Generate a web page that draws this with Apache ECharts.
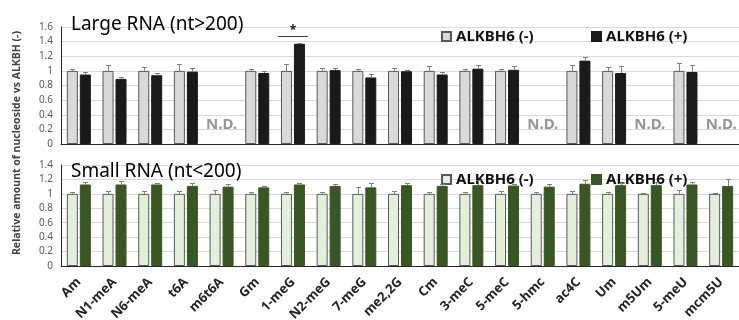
<!DOCTYPE html>
<html><head><meta charset="utf-8">
<script src="https://cdn.jsdelivr.net/npm/echarts@6/dist/echarts.min.js"></script>
<style>html,body{margin:0;padding:0;background:#fff}#c{width:739px;height:320px}</style>
</head><body><div id="c"></div>
<script>
const categories = ['Am','N1-meA','N6-meA','t6A','m6t6A','Gm','1-meG','N2-meG','7-meG','me2,2G','Cm','3-meC','5-meC','5-hmc','ac4C','Um','m5Um','5-meU','mcm5U'];
const largeMinus    = [1,1,1,1,null,1,1,1,1,1,1,1,1,null,1,1,null,1,null];
const largeMinusErr = [0.02,0.08,0.05,0.10,null,0.03,0.10,0.04,0.03,0.035,0.06,0.03,0.03,null,0.08,0.05,null,0.11,null];
const largePlus     = [0.95,0.89,0.94,0.99,null,0.97,1.37,1.01,0.91,0.995,0.95,1.03,1.015,null,1.14,0.97,null,0.985,null];
const largePlusErr  = [0.04,0.03,0.03,0.05,null,0.03,0.015,0.03,0.045,0.02,0.035,0.05,0.055,null,0.05,0.09,null,0.10,null];
const smallMinus    = [1,1,1,1,1,1,1,1,1,1,1,1,1,1,1,1,1,1,1];
const smallMinusErr = [0.03,0.035,0.035,0.035,0.05,0.03,0.02,0.03,0.09,0.04,0.02,0.02,0.04,0.02,0.045,0.02,0.01,0.055,0.01];
const smallPlus     = [1.13,1.13,1.13,1.11,1.10,1.09,1.13,1.11,1.09,1.12,1.11,1.12,1.115,1.10,1.14,1.12,1.12,1.13,1.11];
const smallPlusErr  = [0.03,0.05,0.02,0.035,0.03,0.02,0.02,0.03,0.06,0.03,0.03,0.07,0.015,0.04,0.055,0.03,0.04,0.03,0.10];
const largeND = ['m6t6A','5-hmc','m5Um','mcm5U'];
const sigCategories = ['1-meG'];
const sigLevels = [1.48];
const legendNames = {minus:'ALKBH6 (-)', plus:'ALKBH6 (+)'};
const titles = ['Large RNA (nt>200)','Small RNA (nt<200)'];
const yName = 'Relative amount of nucleoside vs ALKBH (-)';

const FONT = '"Noto Sans", sans-serif';
const BW = 11, OFF = 6.5;
const chart = echarts.init(document.getElementById('c'), null, {renderer:'canvas'});

function errSeries(ax, vals, errs, sign){
  const data = [];
  vals.forEach((v,i)=>{ if(v!=null) data.push([i, v, errs[i]]); });
  return {type:'custom', xAxisIndex:ax, yAxisIndex:ax, silent:true, z:5,
    encode:{x:0,y:1}, data,
    renderItem(params, api){
      const i=api.value(0), v=api.value(1), e=api.value(2);
      const p0=api.coord([i,v]), p1=api.coord([i,v+e]);
      const x=Math.round(p0[0]+sign*OFF)+0.5, yt=Math.round(p1[1])+0.5;
      const st={stroke:'#7f7f7f', lineWidth:1};
      return {type:'group', children:[
        {type:'line', shape:{x1:x,y1:p0[1],x2:x,y2:yt}, style:st},
        {type:'line', shape:{x1:x-2.5,y1:yt,x2:x+2.5,y2:yt}, style:st}
      ]};
    }};
}
function yAxis(ax, max){
  return {type:'value', gridIndex:ax, min:0, max, interval:0.2,
    axisLine:{show:true, lineStyle:{color:'#262626', width:1}},
    axisTick:{show:false},
    splitLine:{lineStyle:{color:'#d9d9d9', width:1}},
    axisLabel:{fontSize:10, color:'#595959', margin:8, fontFamily:FONT}};
}
function xAxis(ax, showLabels){
  return {type:'category', gridIndex:ax, data:categories,
    axisLine:{lineStyle:{color:'#262626', width:1}},
    axisTick:{show:false},
    axisLabel:{show:showLabels, interval:0, rotate:45, fontSize:13, fontWeight:'bold', color:'#222', margin:14, fontFamily:FONT}};
}
function legendItem(name, left, top){
  return {data:[name], left, top, icon:'rect', itemWidth:9, itemHeight:9, itemGap:0,
    selectedMode:false,
    formatter:n=> n.endsWith('-') ? legendNames.minus : legendNames.plus,
    textStyle:{fontSize:15, fontWeight:'bold', color:'#111', fontFamily:FONT}};
}
const option = {
  animation:false,
  title:[
    {text:titles[0], left:66, top:10, textStyle:{fontSize:19, fontWeight:'normal', color:'#000', fontFamily:FONT}},
    {text:titles[1], left:66, top:157, textStyle:{fontSize:19, fontWeight:'normal', color:'#000', fontFamily:FONT}}
  ],
  legend:[
    legendItem('L-', 436, 24), legendItem('L+', 586, 24),
    legendItem('S-', 436, 167), legendItem('S+', 586, 167)
  ],
  graphic:[{type:'text', x:17, y:143, rotation:Math.PI/2,
    style:{text:yName, textAlign:'center', textVerticalAlign:'middle', align:'center', verticalAlign:'middle',
      font:'bold 10.5px "Noto Sans", sans-serif', fill:'#404040'}}],
  grid:[
    {left:61, right:0, top:27, height:117, outerBoundsMode:'none', containLabel:false},
    {left:61, right:0, top:165, height:101, outerBoundsMode:'none', containLabel:false}
  ],
  xAxis:[xAxis(0,false), xAxis(1,true)],
  yAxis:[yAxis(0,1.6), yAxis(1,1.4)],
  series:[
    {name:'L-', type:'bar', xAxisIndex:0, yAxisIndex:0, data:largeMinus, barWidth:BW, barGap:'18%',
      itemStyle:{color:'#d9d9d9', borderColor:'#595959', borderWidth:1}},
    {name:'L+', type:'bar', xAxisIndex:0, yAxisIndex:0, data:largePlus, barWidth:BW,
      itemStyle:{color:'#1a1a1a', borderColor:'#1a1a1a', borderWidth:1}},
    {name:'S-', type:'bar', xAxisIndex:1, yAxisIndex:1, data:smallMinus, barWidth:BW, barGap:'18%',
      itemStyle:{color:'#e2efda', borderColor:'#595959', borderWidth:1}},
    {name:'S+', type:'bar', xAxisIndex:1, yAxisIndex:1, data:smallPlus, barWidth:BW,
      itemStyle:{color:'#385723', borderColor:'#385723', borderWidth:1}},
    errSeries(0, largeMinus, largeMinusErr, -1),
    errSeries(0, largePlus, largePlusErr, 1),
    errSeries(1, smallMinus, smallMinusErr, -1),
    errSeries(1, smallPlus, smallPlusErr, 1),
    {type:'scatter', xAxisIndex:0, yAxisIndex:0, silent:true, symbolSize:1,
      itemStyle:{color:'rgba(0,0,0,0)'},
      data:largeND.map(c=>[c, 0.27]),
      label:{show:true, position:'inside', formatter:'N.D.', fontSize:15, fontWeight:'bold', color:'#7a7a7a', fontFamily:FONT}},
    {type:'custom', xAxisIndex:0, yAxisIndex:0, silent:true, encode:{x:0,y:1},
      data:sigCategories.map((c,k)=>[categories.indexOf(c), sigLevels[k]]),
      renderItem(params, api){
        const p=api.coord([api.value(0), api.value(1)]);
        const y=Math.round(p[1])+0.5;
        return {type:'group', children:[
          {type:'line', shape:{x1:p[0]-15,y1:y,x2:p[0]+15,y2:y}, style:{stroke:'#404040', lineWidth:1}},
          {type:'text', x:p[0], y:y-6, style:{text:'*', textAlign:'center', textVerticalAlign:'middle', align:'center', verticalAlign:'middle', font:'bold 12px "Noto Sans", sans-serif', fill:'#222'}}
        ]};
      }}
  ]
};
chart.setOption(option);
</script></body></html>
